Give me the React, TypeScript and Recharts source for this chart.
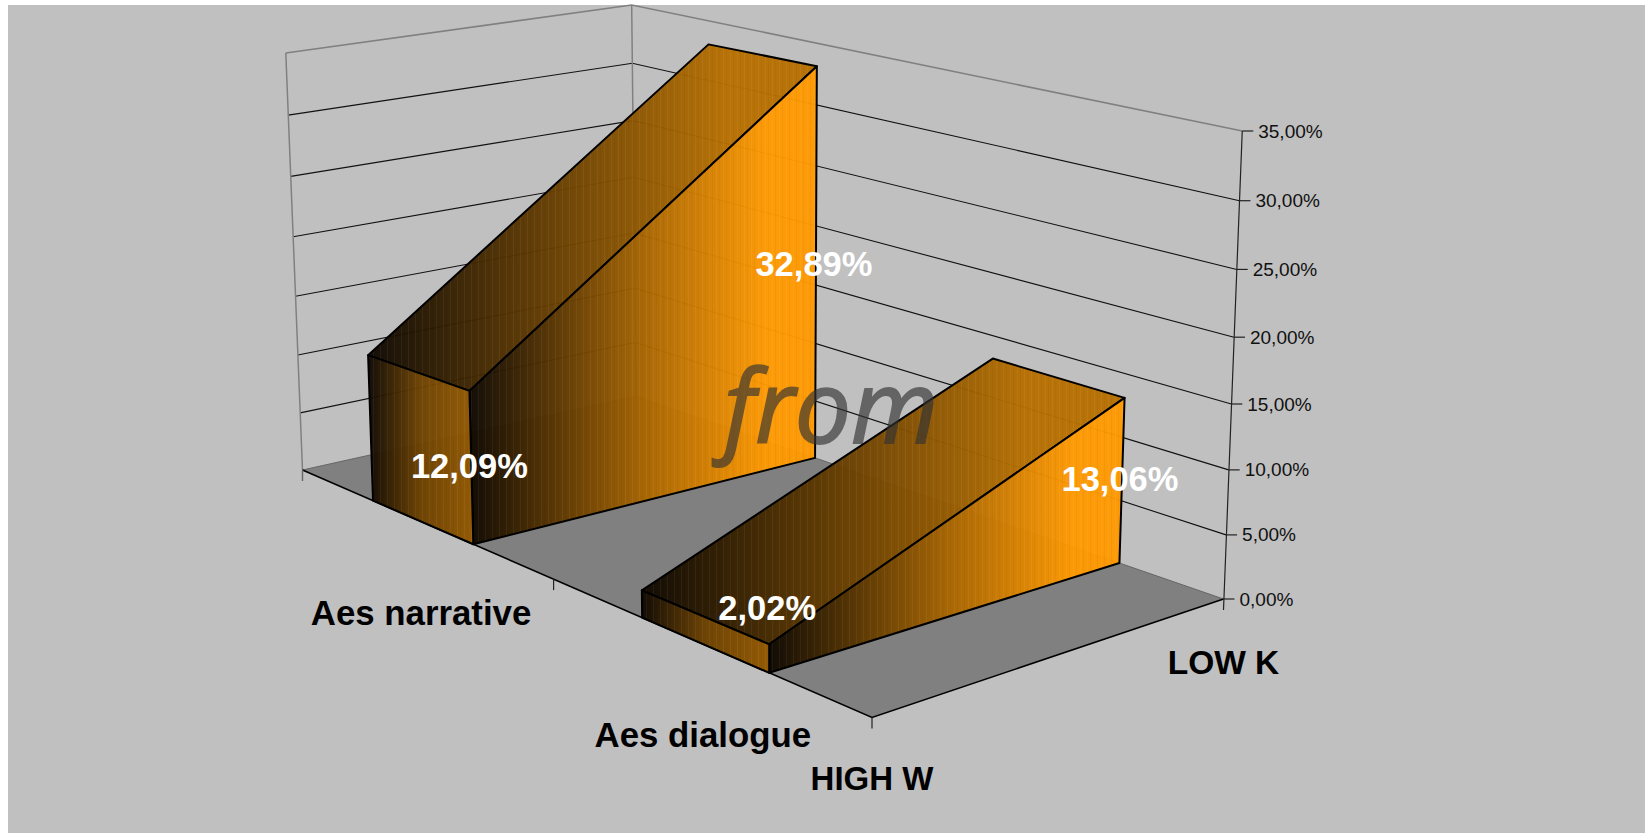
import { Bar, ComposedChart, Customized, LabelList, XAxis, YAxis } from 'recharts';

const categories = ['Aes narrative', 'Aes dialogue'];
const seriesNames = ['HIGH W', 'LOW K'];
const highW = [12.09, 2.02];
const lowK = [32.89, 13.06];
const valueTicks = [0, 5, 10, 15, 20, 25, 30, 35];

const data = categories.map((category, i) => ({ category, high: highW[i], low: lowK[i] }));

const WIDTH = 1647;
const HEIGHT = 835;
const MAX_VALUE = 35;

// screen corners of the chart floor: left, front, right, back
const FLOOR = [[302.5, 470], [872, 717.5], [1223.5, 599], [636, 396]];
// height of the full value range over those same corners
const BOX_HEIGHT = [417, 535, 468, 391];
const DEPTH_SQUEEZE = 1.05; // value ticks are a bit closer together near the floor
const LEAN_CENTER = 763; // verticals fan out from this x
const LEAN = 8.7e-5;

// homography from the unit square: u runs left to front, v runs front to back
function quadMap(q: number[][]) {
  const [[x0, y0], [x1, y1], [x2, y2], [x3, y3]] = q;
  const dx1 = x1 - x2;
  const dx2 = x3 - x2;
  const sx = x0 - x1 + x2 - x3;
  const dy1 = y1 - y2;
  const dy2 = y3 - y2;
  const sy = y0 - y1 + y2 - y3;
  const den = dx1 * dy2 - dx2 * dy1;
  const g = (sx * dy2 - dx2 * sy) / den;
  const h = (dx1 * sy - sx * dy1) / den;
  return (u: number, v: number) => {
    const w = g * u + h * v + 1;
    return [
      ((x1 - x0 + g * x1) * u + (x3 - x0 + h * x3) * v + x0) / w,
      ((y1 - y0 + g * y1) * u + (y3 - y0 + h * y3) * v + y0) / w,
    ];
  };
}

const floorAt = quadMap(FLOOR);

function project(u: number, v: number, value: number) {
  const t = value / MAX_VALUE;
  const s = t / (t + DEPTH_SQUEEZE * (1 - t));
  const [h0, h1, h2, h3] = BOX_HEIGHT;
  const height = (h0 * (1 - u) + h1 * u) * (1 - v) + (h3 * (1 - u) + h2 * u) * v;
  const p = floorAt(u, v);
  return [p[0] + (p[0] - LEAN_CENTER) * LEAN * height * s, p[1] - height * s];
}

const pts = (list: number[][]) => list.map((p) => `${p[0]},${p[1]}`).join(' ');

// wedge footprint along the category axis
const BAND = 0.2;
const centerU = (i: number) => (i + 0.5) / categories.length;
const WEDGE_SHIFT = 0.002;
const labelLift = [2, 51];

function Walls() {
  const gridLines = valueTicks.map((t) => {
    const a = project(0, 0, t);
    const b = project(0, 1, t);
    const c = project(1, 1, t);
    return { t, a, b, c };
  });
  const l = project(0, 0, 0);
  const bk = project(0, 1, 0);
  const r = project(1, 1, 0);
  const f = project(1, 0, 0);
  const mid = project(0.5, 0, 0);
  return (
    <g>
      <polygon points={pts([l, f, r, bk])} fill="#808080" />
      {gridLines
        .filter((g) => g.t > 0)
        .map((g) => (
          <polyline
            key={g.t}
            points={pts([g.a, g.b, g.c])}
            fill="none"
            stroke={g.t === MAX_VALUE ? '#808080' : '#111'}
            strokeWidth={g.t === MAX_VALUE ? 1.6 : 1.1}
          />
        ))}
      <line x1={l[0]} y1={l[1]} x2={gridLines[7].a[0]} y2={gridLines[7].a[1]} stroke="#808080" strokeWidth={1.5} />
      <line x1={bk[0]} y1={bk[1]} x2={gridLines[7].b[0]} y2={gridLines[7].b[1]} stroke="#808080" strokeWidth={1.5} />
      <polyline points={pts([l, bk, r])} fill="none" stroke="#666" strokeWidth={1} />
      <polyline points={pts([l, f, r])} fill="none" stroke="#000" strokeWidth={1.6} />
      <line x1={l[0]} y1={l[1]} x2={l[0]} y2={l[1] + 11} stroke="#666" strokeWidth={1.4} />
      <line x1={mid[0]} y1={mid[1]} x2={mid[0]} y2={mid[1] + 11} stroke="#222" strokeWidth={1.2} />
      <line x1={f[0]} y1={f[1]} x2={f[0]} y2={f[1] + 11} stroke="#222" strokeWidth={1.2} />
      <line x1={r[0]} y1={r[1] + 11} x2={gridLines[7].c[0]} y2={gridLines[7].c[1]} stroke="#222" strokeWidth={1.2} />
      <text x={f[0]} y={f[1] + 61} textAnchor="middle" dominantBaseline="central" fontFamily="Liberation Sans" fontWeight="bold" fontSize={33} fill="#000">
        {seriesNames[0]}
      </text>
      <text x={r[0]} y={r[1] + 63} textAnchor="middle" dominantBaseline="central" fontFamily="Liberation Sans" fontWeight="bold" fontSize={33.5} fill="#000">
        {seriesNames[1]}
      </text>
    </g>
  );
}

function Gradients() {
  return (
    <defs>
      <linearGradient id="sideFill" x1="0" x2="1" y1="0" y2="0">
        <stop offset="0" stopColor="#0d0700" />
        <stop offset="0.5" stopColor="#a86500" />
        <stop offset="0.85" stopColor="#ff9900" />
        <stop offset="1" stopColor="#ff9900" />
      </linearGradient>
      <linearGradient id="topFill" x1="0" x2="1" y1="0" y2="0">
        <stop offset="0" stopColor="#0d0700" />
        <stop offset="0.5" stopColor="#7a4a00" />
        <stop offset="0.8" stopColor="#b87000" />
        <stop offset="1" stopColor="#b87000" />
      </linearGradient>
      <linearGradient id="frontFill" x1="0" x2="1" y1="0" y2="0">
        <stop offset="0" stopColor="#0d0700" />
        <stop offset="0.5" stopColor="#6e4200" />
        <stop offset="1" stopColor="#945900" />
      </linearGradient>
      <pattern id="bands" width="7" height="10" patternUnits="userSpaceOnUse">
        <rect x="2" width="1" height="10" fill="#fff" opacity="0.05" />
        <rect x="5" width="1" height="10" fill="#000" opacity="0.03" />
      </pattern>
    </defs>
  );
}

function Wedge(props: any) {
  const { payload, index } = props;
  const u0 = centerU(index) + WEDGE_SHIFT - BAND / 2;
  const u1 = centerU(index) + WEDGE_SHIFT + BAND / 2;
  const front = [project(u0, 0, 0), project(u1, 0, 0), project(u1, 0, payload.high), project(u0, 0, payload.high)];
  const top = [project(u0, 0, payload.high), project(u1, 0, payload.high), project(u1, 1, payload.low), project(u0, 1, payload.low)];
  const side = [project(u1, 0, 0), project(u1, 1, 0), project(u1, 1, payload.low), project(u1, 0, payload.high)];
  const faces = [
    { p: top, fill: 'url(#topFill)' },
    { p: side, fill: 'url(#sideFill)' },
    { p: front, fill: 'url(#frontFill)' },
  ];
  return (
    <g>
      {faces.map((face, i) => (
        <g key={i}>
          <polygon points={pts(face.p)} fill={face.fill} fillOpacity={0.96} />
          <polygon points={pts(face.p)} fill="url(#bands)" stroke="#000" strokeWidth={2} strokeLinejoin="round" />
        </g>
      ))}
    </g>
  );
}

const formatPercent = (v: number) => `${v.toFixed(2).replace('.', ',')}%`;

function valueLabel(v: number) {
  return (props: any) => {
    const { value, index } = props;
    const p = project(centerU(index) + WEDGE_SHIFT + BAND / 2, v, value / 2);
    return (
      <text
        x={p[0] - 2}
        y={p[1] - (v === 0 ? labelLift[index] : 2)}
        textAnchor="middle"
        dominantBaseline="central"
        fontFamily="Liberation Sans"
        fontWeight="bold"
        fontSize={34.5}
        fill="#fff"
      >
        {formatPercent(value)}
      </text>
    );
  };
}

function ValueTick(props: any) {
  const value = props.payload.value;
  const p = project(1, 1, value);
  return (
    <g>
      <line x1={p[0]} y1={p[1]} x2={p[0] + 11} y2={p[1]} stroke="#222" strokeWidth={1.2} />
      <text x={p[0] + 16} y={p[1]} dominantBaseline="central" fontFamily="Liberation Sans" fontSize={19} fill="#111">
        {value.toFixed(2).replace('.', ',') + '%'}
      </text>
    </g>
  );
}

function CategoryTick(props: any) {
  const i = props.index;
  const p = project(centerU(i), 0, 0);
  return (
    <text
      x={p[0]}
      y={p[1] + 91}
      textAnchor="middle"
      dominantBaseline="central"
      fontFamily="Liberation Sans"
      fontWeight="bold"
      fontSize={34.8}
      fill="#000"
    >
      {props.payload.value}
    </text>
  );
}

export default function App() {
  return (
    <div style={{ position: 'absolute', left: 0, top: 0, width: WIDTH, height: HEIGHT }}>
      <div style={{ position: 'absolute', left: 8, top: 5, width: 1637, height: 828, background: '#c0c0c0' }} />
      <div style={{ position: 'absolute', left: 0, top: 0 }}>
        <ComposedChart width={WIDTH} height={HEIGHT} data={data} margin={{ top: 131, right: 100, bottom: 100, left: 100 }}>
          <Gradients />
          <Customized component={Walls} />
          <XAxis dataKey="category" axisLine={false} tickLine={false} interval={0} tick={CategoryTick} />
          <YAxis
            orientation="right"
            domain={[0, MAX_VALUE]}
            ticks={valueTicks}
            axisLine={false}
            tickLine={false}
            tick={ValueTick}
          />
          <Bar dataKey="low" shape={Wedge} isAnimationActive={false}>
            <LabelList dataKey="low" content={valueLabel(1)} />
          </Bar>
          <Bar dataKey="high" shape={() => <g />} isAnimationActive={false}>
            <LabelList dataKey="high" content={valueLabel(0)} />
          </Bar>
        </ComposedChart>
      </div>
      {/* sits over the whole chart, so it stays outside the svg layers */}
      <div
        style={{
          position: 'absolute',
          left: 724,
          top: 304,
          fontFamily: 'Open Sans',
          fontStyle: 'italic',
          fontSize: 100,
          lineHeight: '200px',
          color: '#333',
          opacity: 0.65,
          WebkitTextStroke: '2px #333',
        }}
      >
        from
      </div>
    </div>
  );
}
